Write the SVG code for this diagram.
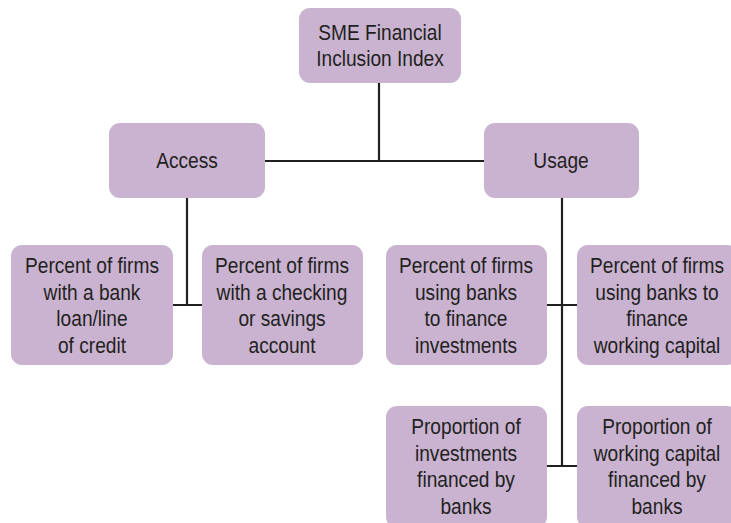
<svg xmlns="http://www.w3.org/2000/svg" width="731" height="523" viewBox="0 0 731 523">
<style>
.box{fill:#c9b3d1;}
.t{font-family:"Liberation Sans",Arial,sans-serif;font-size:22px;fill:#231f20;text-anchor:middle;}
.c{stroke:#231f20;stroke-width:2.2;fill:none;}
</style>
<rect width="731" height="523" fill="#ffffff"/>
<g id="connectors">
<path class="c" d="M379,83 V161 M265,161 H484"/>
<path class="c" d="M187,198 V305 M173,305 H202"/>
<path class="c" d="M562,198 V466 M547,305 H577 M547,466 H577"/>
</g>
<g id="root">
<rect class="box" x="299" y="8" width="162" height="75" rx="11"/>
<text class="t" transform="translate(380,40) scale(0.87,1)">SME Financial</text>
<text class="t" transform="translate(380,66) scale(0.87,1)">Inclusion Index</text>
</g>
<g id="access">
<rect class="box" x="109" y="123" width="156" height="75" rx="11"/>
<text class="t" transform="translate(187,168) scale(0.87,1)">Access</text>
</g>
<g id="usage">
<rect class="box" x="484" y="123" width="155" height="75" rx="11"/>
<text class="t" transform="translate(561,168) scale(0.87,1)">Usage</text>
</g>
<g id="a1">
<rect class="box" x="11" y="245" width="162" height="120" rx="11"/>
<text class="t" transform="translate(92,273) scale(0.87,1)">Percent of firms</text>
<text class="t" transform="translate(92,300) scale(0.87,1)">with a bank</text>
<text class="t" transform="translate(92,326) scale(0.87,1)">loan/line</text>
<text class="t" transform="translate(92,353) scale(0.87,1)">of credit</text>
</g>
<g id="a2">
<rect class="box" x="202" y="245" width="161" height="120" rx="11"/>
<text class="t" transform="translate(282,273) scale(0.87,1)">Percent of firms</text>
<text class="t" transform="translate(282,300) scale(0.87,1)">with a checking</text>
<text class="t" transform="translate(282,326) scale(0.87,1)">or savings</text>
<text class="t" transform="translate(282,353) scale(0.87,1)">account</text>
</g>
<g id="u1">
<rect class="box" x="386" y="245" width="161" height="120" rx="11"/>
<text class="t" transform="translate(466,273) scale(0.87,1)">Percent of firms</text>
<text class="t" transform="translate(466,300) scale(0.87,1)">using banks</text>
<text class="t" transform="translate(466,326) scale(0.87,1)">to finance</text>
<text class="t" transform="translate(466,353) scale(0.87,1)">investments</text>
</g>
<g id="u2">
<rect class="box" x="577" y="245" width="161" height="120" rx="11"/>
<text class="t" transform="translate(657,273) scale(0.87,1)">Percent of firms</text>
<text class="t" transform="translate(657,300) scale(0.87,1)">using banks to</text>
<text class="t" transform="translate(657,326) scale(0.87,1)">finance</text>
<text class="t" transform="translate(657,353) scale(0.87,1)">working capital</text>
</g>
<g id="u3">
<rect class="box" x="386" y="406" width="161" height="122" rx="11"/>
<text class="t" transform="translate(466,434) scale(0.87,1)">Proportion of</text>
<text class="t" transform="translate(466,461) scale(0.87,1)">investments</text>
<text class="t" transform="translate(466,487) scale(0.87,1)">financed by</text>
<text class="t" transform="translate(466,514) scale(0.87,1)">banks</text>
</g>
<g id="u4">
<rect class="box" x="577" y="406" width="161" height="122" rx="11"/>
<text class="t" transform="translate(657,434) scale(0.87,1)">Proportion of</text>
<text class="t" transform="translate(657,461) scale(0.87,1)">working capital</text>
<text class="t" transform="translate(657,487) scale(0.87,1)">financed by</text>
<text class="t" transform="translate(657,514) scale(0.87,1)">banks</text>
</g>
</svg>
